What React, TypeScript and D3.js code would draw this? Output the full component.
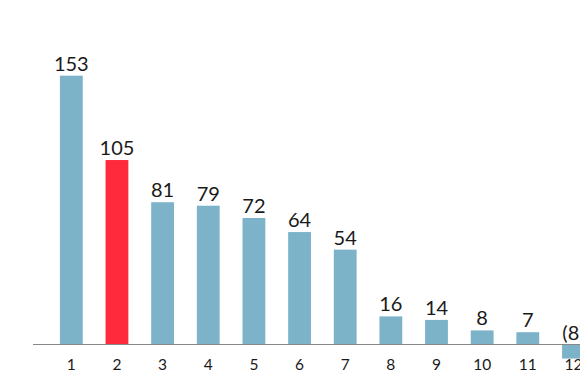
import React from "react";
import * as d3 from "d3";

const categories = ["1", "2", "3", "4", "5", "6", "7", "8", "9", "10", "11", "12"];
const values = [153, 105, 81, 79, 72, 64, 54, 16, 14, 8, 7, -8];
const highlighted = ["2"];

const W = 580;
const H = 387;

export default function App() {
  const step = 45.65;
  const x0 = 59.9;
  const x = d3
    .scaleBand<string>()
    .domain(categories)
    .range([x0, x0 + 11.5 * step])
    .paddingInner(0.5)
    .paddingOuter(0);
  const y = d3.scaleLinear().domain([0, 153]).range([344.5, 75.7]);
  const fmt = (v: number) => (v < 0 ? `(${Math.abs(v)})` : `${v}`);

  return (
    <svg
      width={W}
      height={H}
      style={{ position: "absolute", left: 0, top: 0 }}
      fontFamily="Lato, sans-serif"
    >
      {categories.map((c, i) => {
        const v = values[i];
        const bx = x(c)!;
        const top = Math.min(y(v), y(0));
        const h = Math.abs(y(v) - y(0));
        return (
          <g key={c}>
            <rect
              x={bx}
              y={top}
              width={x.bandwidth()}
              height={h}
              fill={highlighted.includes(c) ? "#ff2b3d" : "#7db3c8"}
            />
            <text
              x={bx + x.bandwidth() / 2}
              y={(v >= 0 ? y(v) : y(0)) - 5}
              textAnchor="middle"
              fontSize={20}
              fill="#1a1a1a"
            >
              {fmt(v)}
            </text>
            <text
              x={bx + x.bandwidth() / 2}
              y={370}
              textAnchor="middle"
              fontSize={15.5}
              fill="#1a1a1a"
            >
              {c}
            </text>
          </g>
        );
      })}
      <line x1={33} x2={W} y1={y(0)} y2={y(0)} stroke="#888" strokeWidth={1} />
    </svg>
  );
}
